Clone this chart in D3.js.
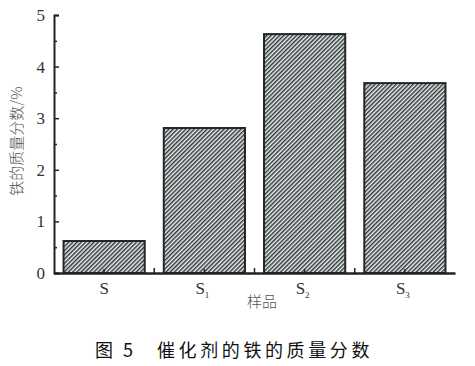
<!DOCTYPE html>
<html><head><meta charset="utf-8">
<script src="https://cdn.jsdelivr.net/npm/d3@7"></script>
<style>body{margin:0;background:#fff}</style>
</head><body>
<script>
const categories = ["S", "S1", "S2", "S3"];
const labelBase = ["S", "S", "S", "S"];
const labelSub = ["", "1", "2", "3"];
const values = [0.62, 2.81, 4.63, 3.68];
const yTicks = [0, 1, 2, 3, 4, 5];
const yLabel = "铁的质量分数/%";
const xLabel = "样品";
const captionNum = "图 5";
const captionText = "催化剂的铁的质量分数";

(function () {
const W = 475, H = 366;
const svg = d3.select("body").append("svg").attr("width", W).attr("height", H);
const mL = 54, mR = 455, mT = 15, mB = 273;

const x = d3.scaleBand().domain(categories).range([mL, mR]).paddingInner(0.19).paddingOuter(0.095);
const y = d3.scaleLinear().domain([0, 5]).range([mB, mT]);

const defs = svg.append("defs");
const pat = defs.append("pattern").attr("id", "hatch").attr("patternUnits", "userSpaceOnUse")
  .attr("width", 3).attr("height", 3).attr("patternTransform", "rotate(45)");
pat.append("rect").attr("width", 3).attr("height", 3).attr("fill", "#eaf5f7");
pat.append("rect").attr("x", 0).attr("width", 1.5).attr("height", 3).attr("fill", "#333");

svg.append("g").selectAll("rect").data(values).join("rect")
  .attr("x", (d, i) => x(categories[i]))
  .attr("y", d => y(d))
  .attr("width", x.bandwidth())
  .attr("height", d => y(0) - y(d))
  .attr("fill", "url(#hatch)")
  .attr("stroke", "#262626").attr("stroke-width", 2);

// y axis
const ya = svg.append("g").attr("transform", `translate(${mL},0)`)
  .call(d3.axisLeft(y).tickValues(yTicks).tickSize(-5).tickPadding(9).tickFormat(d3.format("d")));
ya.select(".domain").attr("stroke", "#222").attr("stroke-width", 2);
ya.selectAll(".tick line").attr("stroke", "#222").attr("stroke-width", 1.5);
ya.selectAll("text").attr("font-family", "Liberation Serif").attr("font-size", 17).attr("fill", "#333");
const ym = svg.append("g").attr("transform", `translate(${mL},0)`)
  .call(d3.axisLeft(y).tickValues(d3.range(0.5, 5, 1)).tickSize(-3).tickFormat(""));
ym.select(".domain").remove();
ym.selectAll(".tick line").attr("stroke", "#222").attr("stroke-width", 1.5);

// x axis
const xa = svg.append("g").attr("transform", `translate(0,${mB})`)
  .call(d3.axisBottom(x).tickSize(-4).tickSizeOuter(0).tickPadding(7).tickFormat(""));
xa.select(".domain").attr("stroke", "#222").attr("stroke-width", 2.5);
xa.selectAll(".tick line").attr("stroke", "#222").attr("stroke-width", 1.5);
const bounds = categories.slice(1).map(c => x(c) - x.step() * x.paddingInner() / 2);
svg.append("g").selectAll("line").data(bounds).join("line")
  .attr("x1", d => d).attr("x2", d => d).attr("y1", mB).attr("y2", mB - 5)
  .attr("stroke", "#222").attr("stroke-width", 1.5);

const lbl = svg.append("g").selectAll("text").data(categories).join("text")
  .attr("x", (d, i) => x(d) + x.bandwidth() / 2 - (labelSub[i] ? 2 : 0))
  .attr("y", mB + 21)
  .attr("text-anchor", "middle")
  .attr("font-family", "Liberation Serif").attr("font-size", 17).attr("fill", "#333");
lbl.append("tspan").text((d, i) => labelBase[i]);
lbl.append("tspan").attr("font-size", 9).attr("dy", 4).text((d, i) => labelSub[i]);

svg.append("text").attr("x", 262).attr("y", 307).attr("text-anchor", "middle")
  .attr("font-family", "Noto Sans CJK SC").attr("font-weight", 300).attr("font-size", 15).attr("fill", "#555")
  .text(xLabel);

svg.append("text").attr("transform", `translate(22,141) rotate(-90)`)
  .attr("text-anchor", "middle")
  .attr("font-family", "Noto Sans CJK SC").attr("font-weight", 300).attr("font-size", 15).attr("fill", "#555")
  .text(yLabel);

svg.append("text").attr("x", 95).attr("y", 357).attr("word-spacing", 6)
  .attr("font-family", "Noto Sans CJK SC").attr("font-size", 18).attr("fill", "#111")
  .text(captionNum);
svg.append("text").attr("x", 157).attr("y", 357).attr("letter-spacing", 3.6)
  .attr("font-family", "Noto Sans CJK SC").attr("font-size", 18).attr("fill", "#111")
  .text(captionText);
})();
</script>
</body></html>
